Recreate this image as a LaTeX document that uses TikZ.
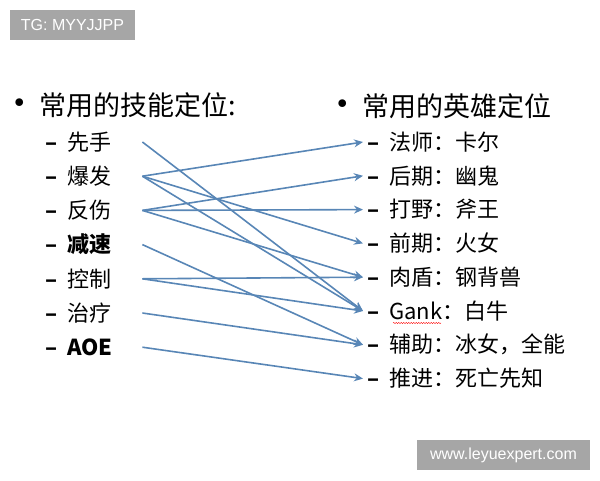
\documentclass[tikz,border=0pt]{standalone}
\usepackage{fontspec}
\setmainfont{Noto Sans CJK SC}
\newfontfamily\wmfont{Liberation Sans}
\usetikzlibrary{positioning,arrows.meta,decorations.pathmorphing}
\definecolor{linkblue}{RGB}{88,134,182}
\definecolor{wmgray}{RGB}{166,166,166}
\newcommand{\itemdash}{{\bfseries –}}
\newcommand{\bigbullet}{\rlap{\raisebox{-1.5pt}{\scalebox{1.35}{•}}}\hspace{38pt}}

\begin{document}
\begin{tikzpicture}[
	x=1pt,y=-1pt,
	node distance=0pt and 0pt,
	title/.style={anchor=west,inner sep=0pt,font=\fontsize{27}{27}\selectfont},
	skill/.style={inner sep=0pt,minimum height=33.8pt,text width=97pt,align=left,font=\fontsize{22}{22}\selectfont},
	hero/.style={inner sep=0pt,minimum height=33.4pt,text width=220pt,align=left,font=\fontsize{22}{22}\selectfont},
	wmbox/.style={fill=wmgray,text=white,inner sep=0pt,font=\wmfont\fontsize{16}{16}\selectfont},
	link/.style={-{Stealth[length=9pt,width=8pt,inset=3pt]},every edge/.append style={draw=linkblue,line width=1.6pt}}
	]
	\useasboundingbox (0,0) rectangle (600,480);
	% watermarks
	\node[wmbox,minimum width=125pt,minimum height=30pt] (tg) at (72.5,25) {TG: MYYJJPP};
	\node[wmbox,minimum width=173pt,minimum height=30pt] (site) at (503.5,455) {www.leyuexpert.com};
	% titles
	\node[title] (skills) at (1,105) {\bigbullet 常用的技能定位:};
	\node[title] (heroes) at (324,106) {\bigbullet 常用的英雄定位};
	% skills
	\node[skill,anchor=west] (xianshou) at (45,142) {\itemdash\hspace{0.45em}先手};
	\node[skill,below=of xianshou] (baofa) {\itemdash\hspace{0.45em}爆发};
	\node[skill,below=of baofa] (fanshang) {\itemdash\hspace{0.45em}反伤};
	\node[skill,below=of fanshang] (jiansu) {\itemdash\hspace{0.45em}\bfseries 减速};
	\node[skill,below=of jiansu] (kongzhi) {\itemdash\hspace{0.45em}控制};
	\node[skill,below=of kongzhi] (zhiliao) {\itemdash\hspace{0.45em}治疗};
	\node[skill,below=of zhiliao] (aoe) {\itemdash\hspace{0.45em}\bfseries AOE};
	% heroes
	\node[hero,anchor=west] (fashi) at (363,142) {\hspace{4pt}\itemdash\hspace{0.45em}法师：卡尔};
	\node[hero,below=of fashi] (houqi) {\hspace{4pt}\itemdash\hspace{0.45em}后期：幽鬼};
	\node[hero,below=of houqi] (daye) {\hspace{4pt}\itemdash\hspace{0.45em}打野：斧王};
	\node[hero,below=of daye] (qianqi) {\hspace{4pt}\itemdash\hspace{0.45em}前期：火女};
	\node[hero,below=of qianqi] (roudun) {\hspace{4pt}\itemdash\hspace{0.45em}肉盾：钢背兽};
	\node[hero,below=of roudun] (gank) {\hspace{4pt}\itemdash\hspace{0.45em}Gank：白牛};
	\node[hero,below=of gank] (fuzhu) {\hspace{4pt}\itemdash\hspace{0.45em}辅助：冰女，全能};
	\node[hero,below=of fuzhu] (tuijin) {\hspace{4pt}\itemdash\hspace{0.45em}推进：死亡先知};
	\draw[red,line width=0.4pt,decorate,decoration={snake,amplitude=0.6pt,segment length=2.5pt}]
		([xshift=30pt,yshift=-12pt]gank.west) -- ([xshift=78pt,yshift=-12pt]gank.west);
	% links
	\path[link]
		(xianshou.east) edge (gank.west)
		(baofa.east) edge (fashi.west)
		(baofa.east) edge (qianqi.west)
		(baofa.east) edge (gank.west)
		(fanshang.east) edge (houqi.west)
		(fanshang.east) edge (daye.west)
		(fanshang.east) edge (roudun.west)
		(jiansu.east) edge (fuzhu.west)
		(kongzhi.east) edge (roudun.west)
		(kongzhi.east) edge (gank.west)
		(zhiliao.east) edge (fuzhu.west)
		(aoe.east) edge (tuijin.west);
\end{tikzpicture}
\end{document}
